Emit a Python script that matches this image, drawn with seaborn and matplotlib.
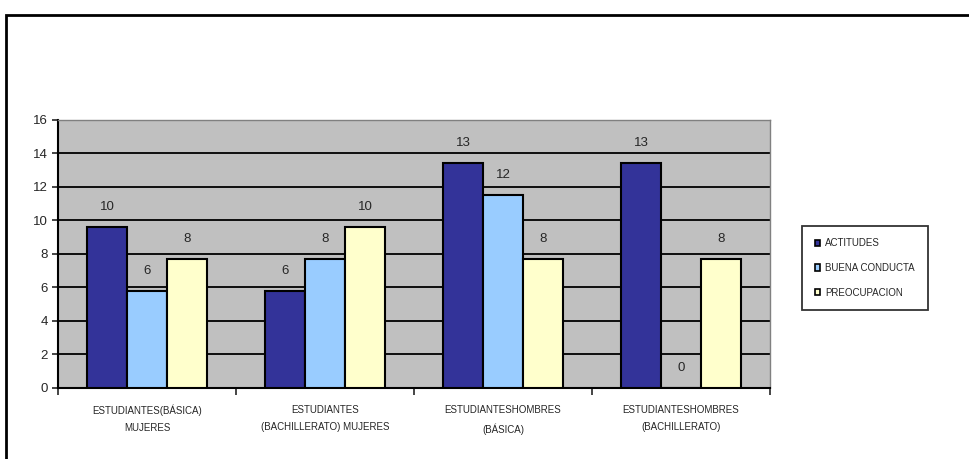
import numpy as np
import pandas as pd
import matplotlib
matplotlib.use("Agg")
import matplotlib.pyplot as plt
import matplotlib.patches as patches
import seaborn as sns

# categories and series
groups = [
    "ESTUDIANTES(BÁSICA)\nMUJERES",
    "ESTUDIANTES\n(BACHILLERATO) MUJERES",
    "ESTUDIANTESHOMBRES\n(BÁSICA)",
    "ESTUDIANTESHOMBRES\n(BACHILLERATO)",
]
series = ["ACTITUDES", "BUENA CONDUCTA", "PREOCUPACION"]
actitudes = [9.62, 5.77, 13.46, 13.46]
buena_conducta = [5.77, 7.69, 11.54, 0.0]
preocupacion = [7.69, 9.62, 7.69, 7.69]
shown_labels = [
    ["10", "6", "13", "13"],
    ["6", "8", "12", "0"],
    ["8", "10", "8", "8"],
]
colors = ["#333399", "#99CCFF", "#FFFFCC"]

df = pd.DataFrame({
    "grupo": groups * 3,
    "serie": np.repeat(series, len(groups)),
    "valor": actitudes + buena_conducta + preocupacion,
})

sns.set_style("white")
plt.rcParams["font.family"] = ["Liberation Sans", "DejaVu Sans"]

fig = plt.figure(figsize=(9.69, 4.59), dpi=100)
ax = fig.add_axes([0.0599, 0.1547, 0.7347, 0.5839])

sns.barplot(
    data=df, x="grupo", y="valor", hue="serie",
    palette=colors, width=0.675, edgecolor="black", linewidth=1.5,
    saturation=1, ax=ax, zorder=3,
)

for cont, labs in zip(ax.containers, shown_labels):
    ax.bar_label(cont, labels=labs, padding=10, fontsize=9.5)

ax.set_facecolor("#C0C0C0")
ax.set_ylim(0, 16)
ax.set_xlim(-0.5, 3.5)
ax.set_yticks(range(0, 17, 2))
ax.yaxis.grid(True, color="black", linewidth=1.3, zorder=0)
ax.set_axisbelow(True)
ax.set_xlabel("")
ax.set_ylabel("")
ax.tick_params(axis="y", labelsize=9.5, length=4, width=1.2, left=True, direction="out")
ax.tick_params(axis="x", which="major", length=0, labelsize=7, pad=12)
ax.set_xticks([-0.5, 0.5, 1.5, 2.5, 3.5], minor=True)
ax.tick_params(axis="x", which="minor", length=5, width=1.2, bottom=True, direction="out")
for lab in ax.get_xticklabels():
    lab.set_linespacing(1.9)
for s in ax.spines.values():
    s.set_color("#808080")
    s.set_linewidth(1)
ax.spines["left"].set_color("black")
ax.spines["bottom"].set_color("black")
ax.spines["left"].set_linewidth(1.5)
ax.spines["bottom"].set_linewidth(1.5)

leg = ax.legend(
    loc="center left", bbox_to_anchor=(802 / 969, 1 - 268 / 459),
    bbox_transform=fig.transFigure, frameon=True, fontsize=7,
    handlelength=0.6, handleheight=0.6, handletextpad=0.5,
    labelspacing=1.5, borderpad=1.3, borderaxespad=0, fancybox=False,
)
leg.get_frame().set_edgecolor("black")
leg.get_frame().set_linewidth(1.3)
for h in leg.legend_handles:
    h.set_edgecolor("black")
    h.set_linewidth(1.2)

# outer chart border
fig.patches.append(patches.Rectangle(
    (6 / 969, -0.1), 1.1, 1.1 - 15 / 459, transform=fig.transFigure,
    fill=False, edgecolor="black", linewidth=2, zorder=0,
))

fig.savefig("out.png", dpi=100)
